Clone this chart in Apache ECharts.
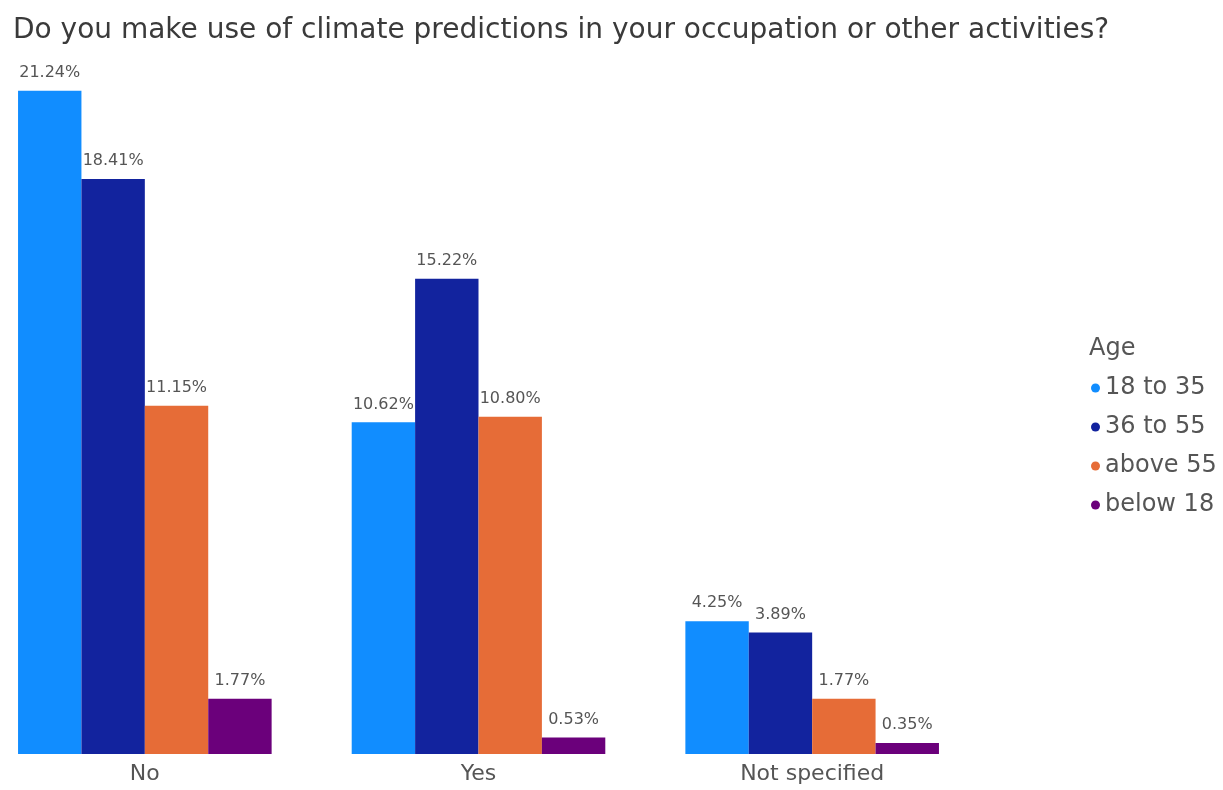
<!DOCTYPE html>
<html>
<head>
<meta charset="utf-8">
<script src="https://cdn.jsdelivr.net/npm/echarts@6/dist/echarts.min.js"></script>
<style>html,body{margin:0;padding:0;background:#fff;overflow:hidden}#wrap{position:relative;width:1223px;height:790px;overflow:hidden}#c{position:absolute;left:-22px;top:0;width:1245px;height:790px}</style>
</head>
<body>
<div id="wrap"><div id="c"></div></div>
<script>
const titleText = 'Do you make use of climate predictions in your occupation or other activities?';
const legendTitle = 'Age';
const categories = ['No', 'Yes', 'Not specified'];
const seriesNames = ['18 to 35', '36 to 55', 'above 55', 'below 18'];
const age18to35 = [21.24, 10.62, 4.25];
const age36to55 = [18.41, 15.22, 3.89];
const ageAbove55 = [11.15, 10.80, 1.77];
const ageBelow18 = [1.77, 0.53, 0.35];
const colors = ['#118DFF', '#12239E', '#E66C37', '#6B007B'];

const values = [age18to35, age36to55, ageAbove55, ageBelow18];
const font = 'DejaVu Sans';
const off = 22; // chart canvas is shifted left by this many px
const chart = echarts.init(document.getElementById('c'), null, {renderer: 'canvas'});
chart.setOption({
  animation: false,
  backgroundColor: '#fff',
  color: colors,
  title: [
    {text: titleText, left: 8 + off, top: 12, textStyle: {fontFamily: font, fontSize: 28, fontWeight: 'normal', color: '#3a3a3a'}},
    {text: legendTitle, left: 1084 + off, top: 332, textStyle: {fontFamily: font, fontSize: 24, fontWeight: 'normal', color: '#555'}}
  ],
  legend: {
    orient: 'vertical', left: 1086 + off, top: 371, icon: 'circle', itemWidth: 9, itemHeight: 9, itemGap: 15,
    textStyle: {fontFamily: font, fontSize: 24, lineHeight: 24, color: '#555'},
    data: seriesNames
  },
  grid: {left: 0, right: 244, top: 67, bottom: 36, containLabel: false},
  xAxis: {
    type: 'category', data: categories,
    axisLine: {show: false}, axisTick: {show: false}, splitLine: {show: false},
    axisLabel: {fontFamily: font, fontSize: 22, color: '#555', margin: 9}
  },
  yAxis: {type: 'value', min: 0, max: 22, show: false, splitLine: {show: false}},
  series: seriesNames.map((n, i) => ({
    name: n, type: 'bar', data: values[i], barGap: '0%', barCategoryGap: '24%',
    itemStyle: {color: colors[i]},
    label: {show: true, position: 'top', distance: 10, fontFamily: font, fontSize: 16, color: '#555',
      formatter: p => p.value.toFixed(2) + '%'}
  }))
});
</script>
</body>
</html>
